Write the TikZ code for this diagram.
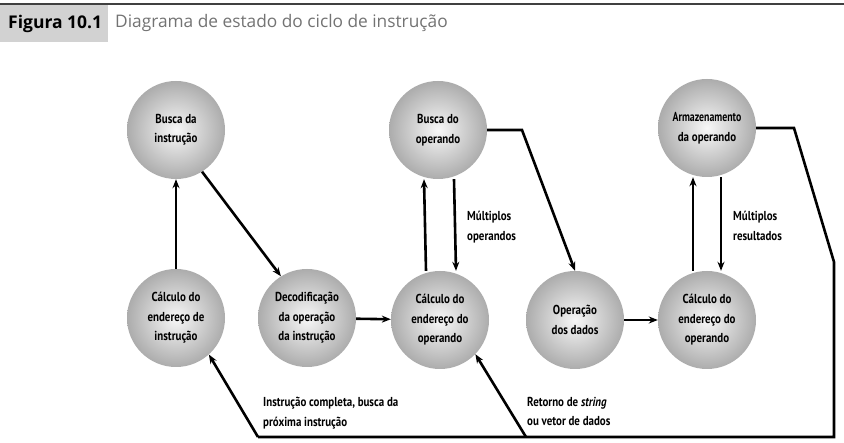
\documentclass[tikz,border=0pt]{standalone}
\usepackage{fontspec}
\setmainfont{Open Sans}
\newfontfamily\nodefont[FakeStretch=0.84]{PT Sans}
\newfontfamily\titlefont{Open Sans}
\usetikzlibrary{arrows.meta}
\begin{document}
\begin{tikzpicture}[x=1pt,y=-1pt,
  state/.style={circle,minimum size=98pt,inner sep=0pt,shading=radial,inner color=gray!6,outer color=gray!65,
    font=\nodefont\bfseries\fontsize{13}{19.5}\selectfont,align=center},
  conn/.style={line width=2.6pt,-{Stealth[length=9pt,width=7pt]}},
  plain/.style={line width=2.6pt},
  lab/.style={font=\nodefont\bfseries\fontsize{13}{19.5}\selectfont,align=left,anchor=north west,inner sep=0pt}]
\useasboundingbox (0,0) rectangle (844,443);
\fill[white] (0,0) rectangle (844,443);
% title
\fill[gray!35] (0,5) rectangle (108,42);
\draw[line width=1.5pt,black!75] (0,4) -- (844,4);
\node[anchor=west,inner sep=0pt,font=\titlefont\bfseries\fontsize{17.5}{20}\selectfont] (fig) at (8,24) {Figura 10.1};
\node[anchor=west,inner sep=0pt,font=\titlefont\fontsize{17.3}{20}\selectfont,text=black!55] (tit) at (115,23) {Diagrama de estado do ciclo de instrução};
% states
\node[state] (bi) at (176,130) {Busca da\\instrução};
\node[state] (bo) at (438,130) {Busca do\\operando};
\node[state] (ao) at (707,128) {\scalebox{0.9}[1]{Armazenamento}\\da operando};
\node[state] (ci) at (176,318) {Cálculo do\\endereço de\\instrução};
\node[state] (dec) at (307,318) {Decodificação\\da operação\\da instrução};
\node[state] (co) at (440,320) {Cálculo do\\endereço do\\operando};
\node[state] (od) at (575,320) {Operação\\dos dados};
\node[state] (co2) at (707,320) {Cálculo do\\endereço do\\operando};
% connectors
\draw[conn] (ci) -- (bi);
\draw[conn] (bi.-58) -- (dec.122);
\draw[conn] (dec) -- (co);
\draw[conn] ([xshift=-14pt]co.north) -- ([xshift=-14pt]bo.south);
\draw[conn] ([xshift=16pt]bo.south) -- ([xshift=16pt]co.north);
\draw[conn] (bo.east) -- (522,130) -- (od.north);
\draw[conn] (od) -- (co2);
\draw[conn] ([xshift=-14pt]co2.north) -- ([xshift=-14pt]ao.south);
\draw[conn] ([xshift=14pt]ao.south) -- ([xshift=14pt]co2.north);
\coordinate (r1) at (794,128);
\coordinate (r2) at (834,262);
\coordinate (r3) at (834,437);
\coordinate (b1) at (526,437);
\coordinate (b0) at (258,437);
\draw[plain,line join=miter] (ao.east) -- (r1) -- (r2) -- (r3) -- (b0);
\draw[conn] (b0) -- (ci.-48);
\draw[conn] (b1) -- (co.-44);
% labels
\node[lab] (l1) at (467,211) {Múltiplos\\operandos};
\node[lab] (l2) at (733,211) {Múltiplos\\resultados};
\node[lab] (l3) at (263,397) {Instrução completa, busca da\\próxima instrução};
\node[lab] (l4) at (527,397) {Retorno de \textit{string}\\ou vetor de dados};
\end{tikzpicture}
\end{document}
